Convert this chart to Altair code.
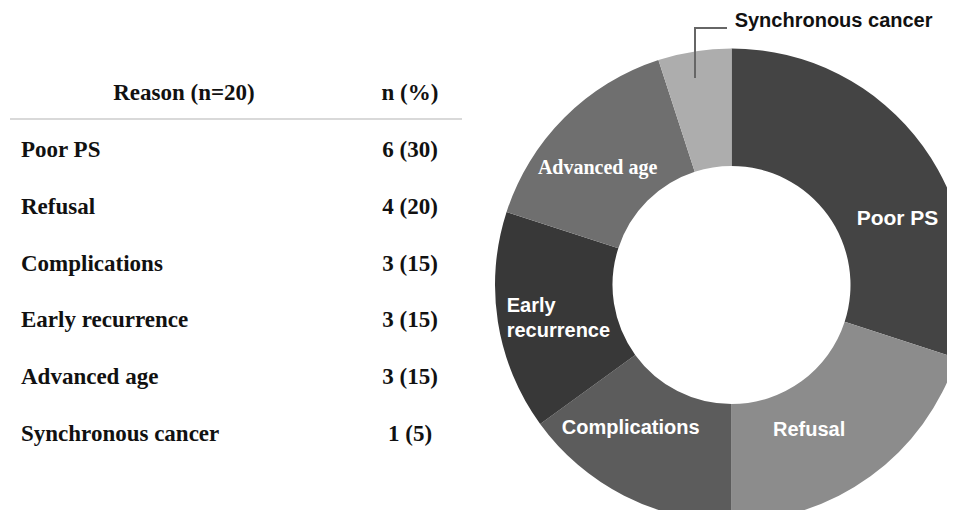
import altair as alt
import pandas as pd

reasons = ["Poor PS", "Refusal", "Complications", "Early recurrence", "Advanced age", "Synchronous cancer"]
counts = [6, 4, 3, 3, 3, 1]
percents = [30, 20, 15, 15, 15, 5]
donut_labels = ["Poor PS", "Refusal", "Complications", "Early\nrecurrence", "Advanced age", "Synchronous cancer"]
slice_colors = ["#444444", "#8c8c8c", "#5c5c5c", "#383838", "#6f6f6f", "#adadad"]
header_reason = "Reason (n=20)"
header_n = "n (%)"

df = pd.DataFrame({
    "idx": list(range(len(reasons))),
    "reason": reasons,
    "n": counts,
    "pct": percents,
    "np": [f"{c} ({p})" for c, p in zip(counts, percents)],
    "dlabel": donut_labels,
})

CX, CY = 723.5, 277
base = alt.Chart(df)

# ---- donut ----
donut = base.mark_arc(innerRadius=119, outerRadius=236.5, clip=True).encode(
    theta=alt.Theta("n:Q", stack=True),
    order=alt.Order("idx:Q"),
    color=alt.Color("reason:N", scale=alt.Scale(domain=reasons, range=slice_colors), legend=None),
    x=alt.value(CX),
    y=alt.value(CY),
)


def arc_label(name, dx, dy, color="white", font="Liberation Sans", size=20, align="center",
              baseline="middle", line_height=25):
    return base.transform_calculate(
        lab=f"datum.reason === '{name}' ? datum.dlabel : ''"
    ).mark_text(
        radius=178, dx=dx, dy=dy, color=color, font=font, fontSize=size, fontWeight="bold",
        align=align, baseline=baseline, lineBreak="\n", lineHeight=line_height,
    ).encode(
        theta=alt.Theta("n:Q", stack=True),
        order=alt.Order("idx:Q"),
        text=alt.Text("lab:N"),
        x=alt.value(CX),
        y=alt.value(CY),
    )


labels = [
    arc_label("Poor PS", 22, 39, size=21),
    arc_label("Refusal", -27, 1),
    arc_label("Complications", -20, -16),
    arc_label("Early recurrence", -49, -7, align="left"),
    arc_label("Advanced age", -8, 9, font="Liberation Serif", size=20),
    arc_label("Synchronous cancer", 31, -82, color="#111111", align="left", baseline="alphabetic"),
]

leader_v = base.mark_rule(color="#666666", strokeWidth=2).encode(
    x=alt.value(687), y=alt.value(20), y2=alt.value(70)
)
leader_h = base.mark_rule(color="#666666", strokeWidth=2).encode(
    x=alt.value(686), x2=alt.value(719), y=alt.value(20)
)

# ---- table ----
yscale = alt.Scale(domain=[0, 5], range=[149, 433])
row_names = base.mark_text(
    align="left", baseline="alphabetic", font="Liberation Serif", fontSize=23, fontWeight="bold", color="#111111"
).encode(
    x=alt.value(13),
    y=alt.Y("idx:Q", scale=yscale, axis=None),
    text="reason:N",
)
row_vals = base.mark_text(
    align="center", baseline="alphabetic", font="Liberation Serif", fontSize=23, fontWeight="bold", color="#111111"
).encode(
    x=alt.value(402),
    y=alt.Y("idx:Q", scale=yscale, axis=None),
    text="np:N",
)
hdr = alt.Chart(pd.DataFrame({"h1": [header_reason], "h2": [header_n]}))
head1 = hdr.mark_text(
    align="center", baseline="alphabetic", font="Liberation Serif", fontSize=23, fontWeight="bold", color="#111111"
).encode(x=alt.value(176), y=alt.value(92), text="h1:N")
head2 = hdr.mark_text(
    align="center", baseline="alphabetic", font="Liberation Serif", fontSize=23, fontWeight="bold", color="#111111"
).encode(x=alt.value(402), y=alt.value(92), text="h2:N")
hline = hdr.mark_rule(color="#cccccc", strokeWidth=1.5).encode(
    x=alt.value(2), x2=alt.value(454), y=alt.value(111)
)

chart = alt.layer(
    donut, *labels, leader_v, leader_h, row_names, row_vals, head1, head2, hline
).properties(
    width=939, height=502, padding=0, background="white"
).configure_view(stroke=None)

chart.save("out.html", embed_options={"renderer": "svg", "actions": False})
